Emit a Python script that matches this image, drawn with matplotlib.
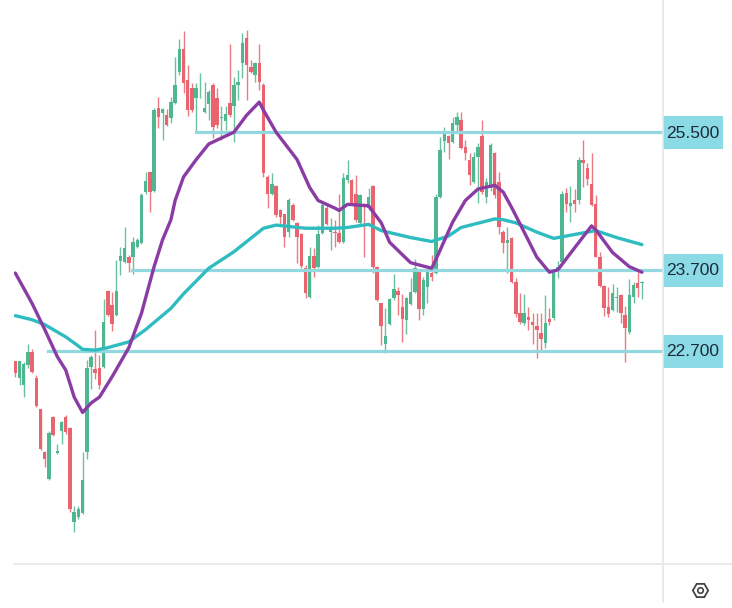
import matplotlib
matplotlib.use("Agg")
import matplotlib.pyplot as plt
from matplotlib.lines import Line2D
from matplotlib.patches import Rectangle
from matplotlib.transforms import blended_transform_factory

# candle bodies and wicks, price
direction = ("DUUUDDDDUD" "UUDDUUUUUD" "DUDDUUUDUU" "UUDUDUDUUU" "DDDUUUUDDU"
             "UDUUUDDUDD" "DUDDDUDDDD" "UDUUDUDDUU" "DDUDUDDDUU" "UDDUUUDUUD"
             "UUUDUUDDDU" "UDUUDDDUDD" "DUDDDDUDUU" "UDUDUDDDDD" "DDUUDDUUDU")

body_top = [22.58,22.58,22.54,22.69,22.69,22.38,22.01,21.51,21.73,21.92,
            21.53,21.86,21.92,21.79,20.84,20.87,21.20,22.49,22.63,22.48,
            22.49,23.05,23.44,23.26,23.44,23.88,23.98,23.86,24.05,24.08,
            24.66,24.85,24.96,25.80,25.83,25.81,25.73,25.91,26.15,26.65,
            26.65,26.22,26.11,26.11,26.11,25.83,26.05,26.15,25.97,25.70,
            25.74,25.90,26.15,26.19,26.74,26.81,26.40,26.46,26.46,26.15,
            24.90,24.80,24.78,24.46,24.41,24.59,24.53,24.30,24.15,23.72,
            23.88,23.88,24.15,24.53,24.49,24.24,24.18,24.17,24.88,24.93,
            24.86,24.67,24.66,24.54,24.63,24.78,23.74,23.28,22.88,23.33,
            23.46,23.44,23.24,23.35,23.42,23.72,23.67,23.57,23.67,23.66,
            24.63,25.26,25.49,25.45,25.62,25.71,25.66,25.30,25.13,25.17,
            25.30,25.45,24.83,25.33,25.22,24.83,24.18,24.08,24.11,23.55,
            23.16,23.16,23.11,23.05,23.00,22.92,23.04,23.09,23.66,23.74,
            24.68,24.69,24.56,24.60,25.12,25.13,25.02,24.80,24.55,23.86,
            23.50,23.24,23.41,23.36,23.38,23.14,23.38,23.51,23.53,23.55]

body_bottom = [22.44,22.38,22.29,22.53,22.45,22.04,21.55,21.43,21.21,21.71,
               21.50,21.75,21.74,20.87,20.73,20.78,20.83,21.51,22.51,22.43,
               22.29,22.51,23.14,23.03,23.14,23.81,23.80,23.79,23.86,23.99,
               24.04,24.70,24.70,24.71,25.70,25.76,25.59,25.69,25.90,26.33,
               26.18,25.80,25.80,25.97,26.10,25.77,25.88,25.57,25.59,25.69,
               25.65,25.73,25.85,26.15,26.46,26.43,26.33,26.29,26.19,24.95,
               24.68,24.68,24.40,24.38,24.12,24.18,24.34,24.12,23.75,23.41,
               23.36,23.72,23.74,24.17,24.28,24.18,24.17,24.05,24.05,24.86,
               24.55,24.33,24.30,24.50,24.49,23.74,23.32,23.00,22.78,23.03,
               23.35,23.38,23.09,23.08,23.27,23.42,23.21,23.21,23.48,23.61,
               23.66,24.63,25.38,25.35,25.36,25.60,25.29,25.22,24.92,24.83,
               25.17,24.70,24.63,24.75,24.66,24.24,24.04,24.04,23.55,23.15,
               23.05,23.04,23.08,23.02,22.95,22.84,22.80,23.05,23.10,23.67,
               23.80,24.55,24.52,24.55,24.59,25.09,24.87,24.53,23.86,23.50,
               23.22,23.15,23.20,23.35,23.16,22.98,22.93,23.36,23.47,23.53]

high = [22.58,22.58,22.57,22.78,22.72,22.41,22.01,21.52,21.75,21.93,
        21.60,21.87,21.94,21.80,20.90,20.91,21.51,22.59,22.65,22.96,
        22.65,23.34,23.45,23.42,23.83,23.99,24.25,23.89,24.12,24.11,
        24.69,24.97,24.97,25.83,25.98,25.83,25.81,25.98,26.54,26.79,
        26.91,26.42,26.18,26.18,26.32,26.19,26.08,26.18,26.11,25.86,
        25.86,26.72,26.26,26.36,26.88,26.92,26.49,26.47,26.72,26.18,
        24.92,24.95,24.79,24.48,24.42,24.62,24.56,24.31,24.17,23.76,
        23.99,23.98,24.27,24.56,24.53,24.36,24.34,24.68,24.95,25.13,
        24.87,24.93,24.68,24.56,24.76,24.79,23.75,23.28,23.22,23.35,
        23.65,23.48,23.40,23.36,23.60,23.84,23.70,23.61,23.69,23.89,
        24.68,25.43,25.57,25.46,25.70,25.78,25.78,25.39,25.22,25.23,
        25.35,25.66,24.88,25.35,25.23,24.96,24.21,24.25,24.12,23.60,
        23.41,23.40,23.24,23.16,23.16,23.16,23.38,23.22,23.69,23.81,
        24.72,24.75,24.78,24.74,25.17,25.40,25.09,25.22,24.66,23.93,
        23.51,23.48,23.52,23.48,23.40,23.25,23.58,23.55,23.67,23.56]

low = [22.39,22.29,22.15,22.50,22.43,22.03,21.54,21.34,21.20,21.70,
       21.49,21.61,21.72,20.84,20.62,20.76,20.82,21.43,22.25,22.37,
       22.25,22.49,23.13,22.94,23.13,23.64,23.79,23.67,23.65,23.98,
       24.03,24.68,24.44,24.70,25.55,25.39,25.58,25.63,25.89,26.29,
       26.04,25.72,25.77,25.49,25.97,25.76,25.66,25.42,25.55,25.39,
       25.53,25.70,25.36,25.94,26.25,25.94,26.32,26.19,26.08,24.90,
       24.49,24.66,24.38,24.27,23.99,24.12,24.32,23.79,23.72,23.35,
       23.35,23.61,23.72,24.15,24.27,23.95,23.99,24.04,24.04,24.82,
       24.53,24.31,24.29,23.86,24.47,23.66,23.31,22.77,22.68,23.02,
       23.32,23.14,22.81,22.90,23.26,23.41,23.08,23.14,23.28,23.56,
       23.65,24.62,25.23,25.14,25.35,25.49,25.27,25.13,24.79,24.82,
       24.56,24.68,24.56,24.72,24.62,24.15,23.91,23.66,23.53,23.11,
       23.03,23.02,22.96,22.78,22.62,22.69,22.74,23.02,23.08,23.60,
       23.79,24.44,24.31,24.44,24.55,24.77,24.79,24.52,23.86,23.48,
       23.13,23.11,23.19,23.18,23.04,22.57,22.91,23.29,23.36,23.33]

# moving averages, read at the bar numbers where they bend
fast_bars = [0,4,7,10,12,14,16,18,20,23,27,30,33,35,37,38,40,43,46,49,52,55,58,59,62,
             67,70,72,76,77,79,84,87,89,94,99,100,104,107,110,114,116,118,121,124,127,
             129,133,137,138,142,146,149]
fast_ma = [23.66,23.28,22.96,22.63,22.47,22.15,21.97,22.08,22.15,22.39,22.74,23.16,
           23.74,24.08,24.34,24.59,24.90,25.13,25.34,25.42,25.50,25.73,25.91,25.80,
           25.50,25.13,24.76,24.59,24.49,24.46,24.54,24.52,24.30,24.05,23.79,23.72,
           23.83,24.31,24.59,24.74,24.79,24.70,24.50,24.18,23.86,23.67,23.70,23.98,
           24.26,24.21,23.92,23.74,23.67]

slow_bars = [0,4,7,12,15,16,19,22,27,31,37,40,46,52,59,62,69,76,79,84,87,94,99,103,
             106,114,116,119,124,128,133,138,143,149]
slow_ma = [23.13,23.08,23.02,22.87,22.76,22.72,22.71,22.74,22.81,22.96,23.22,23.40,
           23.72,23.93,24.23,24.27,24.23,24.23,24.24,24.28,24.20,24.11,24.06,24.13,
           24.24,24.35,24.34,24.30,24.18,24.10,24.15,24.20,24.11,24.02]

# horizontal levels and the bar each one starts at
levels = [25.5, 23.7, 22.7]
level_start = [43, 27.7, 7.8]
level_labels = ["25.500", "23.700", "22.700"]

W, H = 732, 608
UP = "#4fb78f"
DOWN = "#e9646f"
LEVEL = "#93d8df"
BOX = "#8adbe6"
GRID = "#e6e6e6"

fig = plt.figure(figsize=(W / 100, H / 100), dpi=100)
ax = fig.add_axes([14 / W, 1 - 564 / H, 649 / W, 564 / H])
ax.set_yscale("log")

bars = range(len(body_top))
colors = [UP if d == "U" else DOWN for d in direction]
ax.vlines(bars, low, high, colors=colors, linewidth=1.0, alpha=0.85, zorder=2)
ax.bar(bars, [t - b for t, b in zip(body_top, body_bottom)], bottom=body_bottom,
       width=0.82, color=colors, linewidth=0, zorder=2)

trans = blended_transform_factory(ax.transAxes, ax.transData)
for price, start, label in zip(levels, level_start, level_labels):
    ax.plot([start, 154], [price, price], color=LEVEL, linewidth=2.3, zorder=3)
    ax.add_patch(Rectangle((1.0, price * 0.9909), 60 / 649, price * 0.0175,
                           transform=trans, facecolor=BOX, edgecolor="none",
                           clip_on=False, zorder=5))
    ax.text(1.0 + 30 / 649, price * 0.9995, label, transform=trans, ha="center", va="center",
            fontsize=12.5, color="#1d2a38", zorder=6, clip_on=False,
            family=["Liberation Sans Narrow", "Liberation Sans", "DejaVu Sans"])

ax.plot(slow_bars, slow_ma, color="#2fbcc0", linewidth=2.4, zorder=4,
        solid_joinstyle="round", solid_capstyle="round")
ax.plot(fast_bars, fast_ma, color="#8a3ca4", linewidth=2.4, zorder=4,
        solid_joinstyle="round", solid_capstyle="round")

ax.set_xlim(-0.31, 154)
ax.set_ylim(20.27, 27.355)
ax.tick_params(which="both", length=0, labelleft=False, labelbottom=False)
for side in ["top", "left", "right", "bottom"]:
    ax.spines[side].set_visible(False)

# pane borders run past the axes
fig.add_artist(Line2D([14 / W, 1], [1 - 564 / H] * 2, color=GRID, linewidth=1.2))
fig.add_artist(Line2D([663 / W] * 2, [1, 1 - 602 / H], color=GRID, linewidth=1.2))

# settings icon
fig.add_artist(Line2D([700 / W], [1 - 590 / H], marker="H", markersize=11, markerfacecolor="none",
                      markeredgecolor="#444444", markeredgewidth=1.3))
fig.add_artist(Line2D([700 / W], [1 - 590 / H], marker="o", markersize=4, markerfacecolor="none",
                      markeredgecolor="#444444", markeredgewidth=1.2))

fig.savefig("out.png", dpi=100, facecolor="white")
